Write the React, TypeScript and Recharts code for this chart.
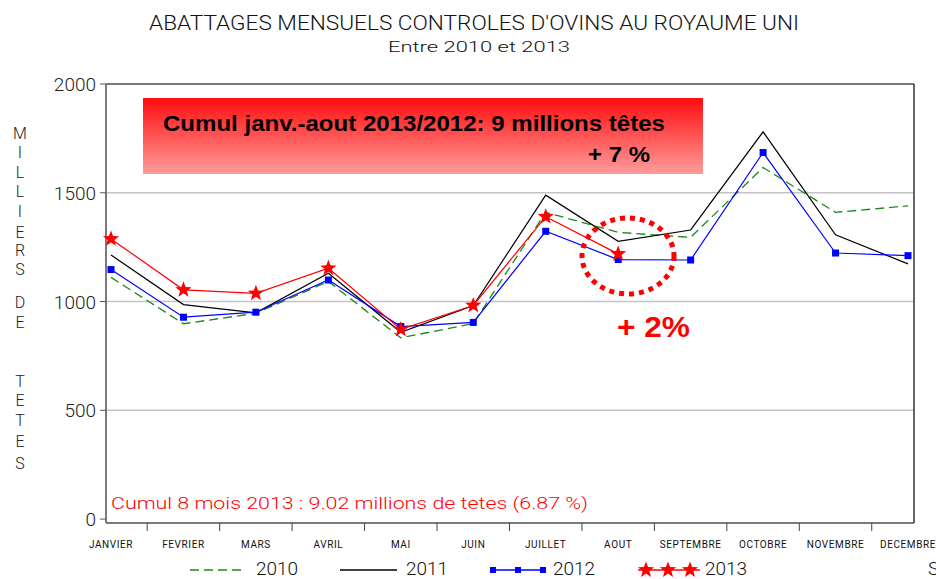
import React from "react";
import {
  LineChart,
  Line,
  XAxis,
  YAxis,
  CartesianGrid,
} from "recharts";

// Month categories along the x axis
const MONTHS = [
  "JANVIER", "FEVRIER", "MARS", "AVRIL", "MAI", "JUIN",
  "JUILLET", "AOUT", "SEPTEMBRE", "OCTOBRE", "NOVEMBRE", "DECEMBRE",
];

// Monthly slaughter, thousands of head
const S2010 = [1111, 898, 946, 1092, 833, 899, 1410, 1318, 1295, 1616, 1410, 1440];
const S2011 = [1214, 986, 948, 1130, 859, 982, 1489, 1277, 1329, 1780, 1307, 1173];
const S2012 = [1147, 928, 951, 1099, 885, 904, 1323, 1193, 1191, 1685, 1223, 1211];
const S2013 = [1288, 1054, 1038, 1153, 872, 982, 1390, 1219];

const Y_TICKS = [0, 500, 1000, 1500, 2000];
const Y_LABEL = "MILLIERS DE TETES";

const THIN = "Roboto, 'DejaVu Sans', sans-serif";
const BOLD = "'Liberation Sans', Arial, sans-serif";

const data = MONTHS.map((m, i) => ({
  month: m,
  y2010: S2010[i],
  y2011: S2011[i],
  y2012: S2012[i],
  y2013: i < S2013.length ? S2013[i] : null,
}));

function starPoints(cx: number, cy: number, r: number) {
  const pts: string[] = [];
  for (let k = 0; k < 10; k++) {
    const rad = k % 2 === 0 ? r : r * 0.42;
    const a = -Math.PI / 2 + (k * Math.PI) / 5;
    pts.push(`${cx + rad * Math.cos(a)},${cy + rad * Math.sin(a)}`);
  }
  return pts.join(" ");
}

function StarDot(props: any) {
  const { cx, cy } = props;
  if (cx == null || cy == null) return null;
  return <polygon points={starPoints(cx, cy, 8.5)} fill="#ff0000" />;
}

function SquareDot(props: any) {
  const { cx, cy } = props;
  if (cx == null || cy == null) return null;
  return <rect x={cx - 3.5} y={cy - 3.5} width={7} height={7} fill="#0000ff" />;
}

function MonthTick(props: any) {
  const { x, payload, index } = props;
  return (
    <g>
      <text
        x={x}
        y={548}
        textAnchor="middle"
        fontSize={10}
        letterSpacing={0.6}
        fontFamily={THIN}
        fill="#111"
      >
        {payload.value}
      </text>
      {index < MONTHS.length - 1 && (
        <line x1={x + 36.2} x2={x + 36.2} y1={523} y2={531} stroke="#444" strokeWidth={1} />
      )}
    </g>
  );
}

function ValueTick(props: any) {
  const { y, payload } = props;
  return (
    <text
      x={96}
      y={y}
      dy={7}
      textAnchor="end"
      fontSize={19}
      fontFamily={THIN}
      fontWeight={300}
      fill="#222"
    >
      {payload.value}
    </text>
  );
}

// y positions of the stacked axis-title letters
const LABEL_Y = [133, 152, 172, 191, 211, 232, 250, 269, 0, 302, 322, 0, 381, 400, 420, 441, 463];

export default function App() {
  return (
    <div style={{ position: "absolute", left: 0, top: 0, width: 936, height: 579, background: "#fff" }}>
      <LineChart
        width={936}
        height={579}
        data={data}
        margin={{ top: 84, right: 22, bottom: 26, left: 26 }}
      >
        <CartesianGrid
          vertical={false}
          horizontalValues={[500, 1000, 1500]}
          stroke="#c4c4c4"
          strokeWidth={1.5}
        />
        <XAxis
          dataKey="month"
          height={30}
          padding={{ left: 5, right: 6 }}
          axisLine={{ stroke: "#7a7a7a", strokeWidth: 2 }}
          tickLine={false}
          tick={<MonthTick />}
          interval={0}
        />
        <YAxis
          width={80}
          type="number"
          domain={[-18, 2000]}
          ticks={Y_TICKS}
          axisLine={{ stroke: "#7a7a7a", strokeWidth: 2 }}
          tickLine={{ stroke: "#555" }}
          tickSize={6}
          tick={<ValueTick />}
        />
        <Line
          dataKey="y2010"
          stroke="#1a8a1a"
          strokeWidth={1.3}
          strokeDasharray="9 5"
          dot={false}
          isAnimationActive={false}
        />
        <Line
          dataKey="y2011"
          stroke="#000"
          strokeWidth={1.2}
          dot={false}
          isAnimationActive={false}
        />
        <Line
          dataKey="y2012"
          stroke="#0000ff"
          strokeWidth={1.2}
          dot={<SquareDot />}
          isAnimationActive={false}
        />
        <Line
          dataKey="y2013"
          stroke="#ff0000"
          strokeWidth={1.2}
          dot={<StarDot />}
          connectNulls={false}
          isAnimationActive={false}
        />
      </LineChart>

      {/* frame, titles, annotations and legend drawn on top */}
      <svg
        width={936}
        height={579}
        style={{ position: "absolute", left: 0, top: 0, pointerEvents: "none" }}
      >
        <defs>
          <linearGradient id="boxGrad" x1="0" y1="0" x2="0" y2="1">
            <stop offset="0%" stopColor="#ff0d0d" />
            <stop offset="100%" stopColor="#ff9c9c" />
          </linearGradient>
        </defs>

        <line x1={106} x2={914} y1={84} y2={84} stroke="#7a7a7a" strokeWidth={2} />
        <line x1={914} x2={914} y1={84} y2={523} stroke="#333" strokeWidth={1.5} />

        <text x={474} y={30} textAnchor="middle" fontSize={20} fontFamily={THIN} fontWeight={300} fill="#111" textLength={650} lengthAdjust="spacingAndGlyphs">
          ABATTAGES MENSUELS CONTROLES D'OVINS AU ROYAUME UNI
        </text>
        <text x={479} y={52} textAnchor="middle" fontSize={15} fontFamily={THIN} fontWeight={300} fill="#111" textLength={182} lengthAdjust="spacingAndGlyphs">
          Entre 2010 et 2013
        </text>

        {Y_LABEL.split("").map((ch, i) =>
          ch === " " ? null : (
            <text key={i} x={20} y={LABEL_Y[i] + 6} textAnchor="middle" fontSize={16} fontFamily={THIN} fontWeight={300} fill="#222">
              {ch}
            </text>
          )
        )}

        <rect x={143} y={98} width={560} height={76} fill="url(#boxGrad)" />
        <text x={163} y={131} fontSize={22} fontWeight={700} fontFamily={BOLD} fill="#000" textLength={502} lengthAdjust="spacingAndGlyphs">
          Cumul janv.-aout 2013/2012: 9 millions têtes
        </text>
        <text x={588} y={162} fontSize={22} fontWeight={700} fontFamily={BOLD} fill="#000" textLength={62} lengthAdjust="spacingAndGlyphs">
          + 7 %
        </text>

        <ellipse cx={628} cy={256} rx={46} ry={38} fill="none" stroke="#ff0000" strokeWidth={5} strokeDasharray="5 5" />
        <text x={617} y={337} fontSize={30} fontWeight={700} fontFamily={BOLD} fill="#ff0000" textLength={73} lengthAdjust="spacingAndGlyphs">
          + 2%
        </text>

        <text x={111} y={509} fontSize={16} fontFamily={THIN} fontWeight={300} fill="#ff0000" textLength={477} lengthAdjust="spacingAndGlyphs">
          Cumul 8 mois 2013 : 9.02 millions de tetes (6.87 %)
        </text>

        {/* legend */}
        <line x1={190} x2={246} y1={570} y2={570} stroke="#1a8a1a" strokeWidth={1.5} strokeDasharray="9 5" />
        <text x={256} y={575} fontSize={19} fontFamily={THIN} fontWeight={300} fill="#111">2010</text>
        <line x1={340} x2={397} y1={570} y2={570} stroke="#000" strokeWidth={1.5} />
        <text x={406} y={575} fontSize={19} fontFamily={THIN} fontWeight={300} fill="#111">2011</text>
        <line x1={491} x2={545} y1={570} y2={570} stroke="#0000ff" strokeWidth={1.5} />
        {[493, 518, 543].map((x) => (
          <rect key={x} x={x - 3} y={567} width={6} height={6} fill="#0000ff" />
        ))}
        <text x={553} y={575} fontSize={19} fontFamily={THIN} fontWeight={300} fill="#111">2012</text>
        <line x1={638} x2={700} y1={570} y2={570} stroke="#ff0000" strokeWidth={1.5} />
        {[646, 668, 690].map((x) => (
          <polygon key={x} points={starPoints(x, 570, 8.5)} fill="#ff0000" />
        ))}
        <text x={705} y={575} fontSize={19} fontFamily={THIN} fontWeight={300} fill="#111">2013</text>
        <text x={928} y={575} fontSize={19} fontFamily={THIN} fontWeight={300} fill="#111">S</text>
      </svg>
    </div>
  );
}
